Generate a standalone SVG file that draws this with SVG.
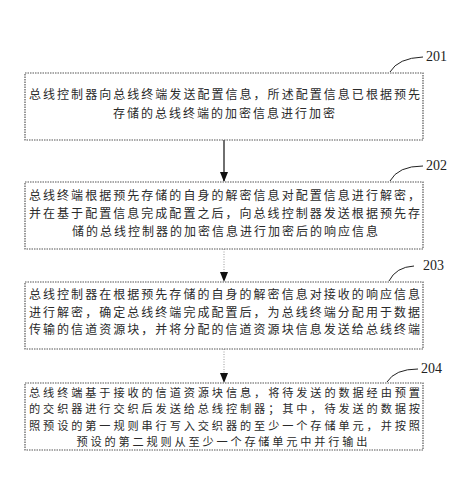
<svg xmlns="http://www.w3.org/2000/svg" width="473" height="493" viewBox="0 0 473 493">
<defs>
<style>
.box{fill:none;stroke:#555;stroke-width:1.2;stroke-dasharray:1.5 1}
.t{font-family:"Noto Sans CJK SC","Noto Sans CJK JP",sans-serif;font-size:12px;fill:#2a2a2a}
.s{font-size:11.2px}
.c{text-anchor:middle}
.lbl{font-family:"Liberation Serif",serif;font-size:14px;fill:#222}
.lead{fill:none;stroke:#222;stroke-width:1}
.solid{stroke:#222;stroke-width:1.3}
.dot{stroke:#999;stroke-width:1;stroke-dasharray:1 1.5}
</style>
<marker id="ah" markerWidth="10" markerHeight="10" refX="9" refY="5" orient="auto" markerUnits="userSpaceOnUse">
<path d="M0,1 L10,5 L0,9 Z" fill="#111"/>
</marker>
</defs>
<rect width="473" height="493" fill="#fff"/>
<g id="connectors">
<line class="solid" x1="224" y1="140" x2="224" y2="181" marker-end="url(#ah)"/>
<line class="dot" x1="224" y1="249" x2="224" y2="281" marker-end="url(#ah)"/>
<line class="dot" x1="224" y1="349" x2="224" y2="382" marker-end="url(#ah)"/>
</g>
<g id="n201">
<rect class="box" x="25" y="73" width="398" height="67"/>
<path class="lead" d="M390,72 Q398,58 423,57"/>
<text class="lbl" x="426" y="61">201</text>
<text class="t" x="29" y="99" textLength="391" lengthAdjust="spacing">总线控制器向总线终端发送配置信息，所述配置信息已根据预先</text>
<text class="t c" x="224" y="118" textLength="222" lengthAdjust="spacing">存储的总线终端的加密信息进行加密</text>
</g>
<g id="n202">
<rect class="box" x="25" y="182" width="398" height="67"/>
<path class="lead" d="M390,181 Q398,166 423,166"/>
<text class="lbl" x="426" y="170">202</text>
<text class="t" x="29" y="200" textLength="391" lengthAdjust="spacing">总线终端根据预先存储的自身的解密信息对配置信息进行解密，</text>
<text class="t" x="29" y="218" textLength="391" lengthAdjust="spacing">并在基于配置信息完成配置之后，向总线控制器发送根据预先存</text>
<text class="t c" x="225" y="236" textLength="306" lengthAdjust="spacing">储的总线控制器的加密信息进行加密后的响应信息</text>
</g>
<g id="n203">
<rect class="box" x="25" y="282" width="398" height="67"/>
<path class="lead" d="M389,281 Q396,267 414,266"/>
<text class="lbl" x="423" y="270">203</text>
<text class="t" x="29" y="299" textLength="391" lengthAdjust="spacing">总线控制器在根据预先存储的自身的解密信息对接收的响应信息</text>
<text class="t" x="29" y="316.5" textLength="391" lengthAdjust="spacing">进行解密，确定总线终端完成配置后，为总线终端分配用于数据</text>
<text class="t" x="29" y="334" textLength="391" lengthAdjust="spacing">传输的信道资源块，并将分配的信道资源块信息发送给总线终端</text>
</g>
<g id="n204">
<rect class="box" x="25" y="383" width="398" height="67"/>
<path class="lead" d="M387,382 Q395,369 418,369"/>
<text class="lbl" x="421" y="373">204</text>
<text class="t s" x="29" y="397" textLength="391" lengthAdjust="spacing">总线终端基于接收的信道资源块信息，将待发送的数据经由预置</text>
<text class="t s" x="29" y="413.3" textLength="391" lengthAdjust="spacing">的交织器进行交织后发送给总线控制器；其中，待发送的数据按</text>
<text class="t s" x="29" y="429.6" textLength="391" lengthAdjust="spacing">照预设的第一规则串行写入交织器的至少一个存储单元，并按照</text>
<text class="t s c" x="222" y="445.9" textLength="291" lengthAdjust="spacing">预设的第二规则从至少一个存储单元中并行输出</text>
</g>
</svg>
